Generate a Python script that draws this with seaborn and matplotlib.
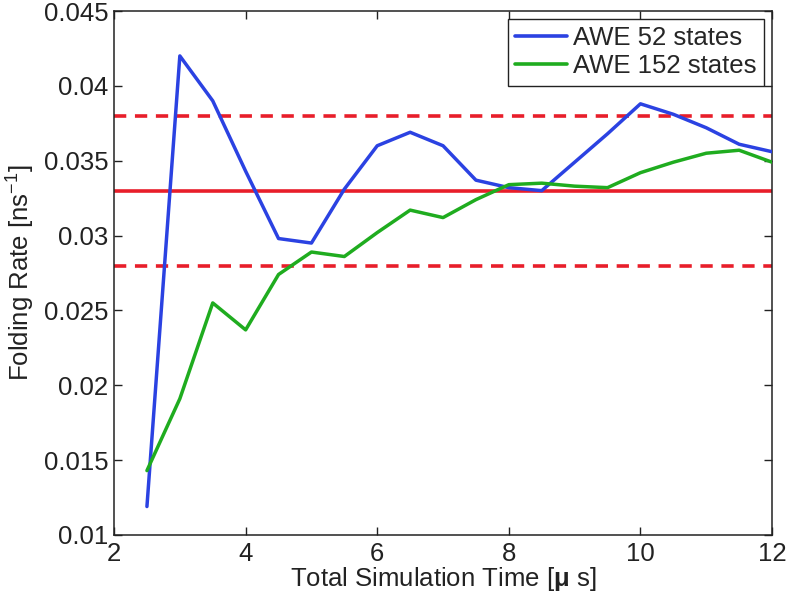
import numpy as np
import pandas as pd
import matplotlib
matplotlib.use("Agg")
import matplotlib.pyplot as plt
from matplotlib.ticker import FuncFormatter, MultipleLocator
import seaborn as sns

# ---- data ----
time_us = [2.5, 3, 3.5, 4, 4.5, 5, 5.5, 6, 6.5, 7, 7.5, 8, 8.5, 9, 9.5, 10, 10.5, 11, 11.5, 12]
awe52 = [0.0119, 0.0420, 0.0390, 0.0343, 0.0298, 0.0295, 0.0331, 0.0360, 0.0369, 0.0360,
         0.0337, 0.0332, 0.0330, 0.0349, 0.0368, 0.0388, 0.0381, 0.0372, 0.0361, 0.0356]
awe152 = [0.0143, 0.0191, 0.0255, 0.0237, 0.0274, 0.0289, 0.0286, 0.0302, 0.0317, 0.0312,
          0.0324, 0.0334, 0.0335, 0.0333, 0.0332, 0.0342, 0.0349, 0.0355, 0.0357, 0.0349]
series_names = ["AWE 52 states", "AWE 152 states"]
ref_rate = 0.033
ref_band = [0.038, 0.028]
x_ticks = [2, 4, 6, 8, 10, 12]

df = pd.DataFrame({
    "time": time_us * 2,
    "rate": awe52 + awe152,
    "series": [series_names[0]] * len(time_us) + [series_names[1]] * len(time_us),
})

sns.set_style("ticks")
plt.rcParams["font.family"] = ["Liberation Sans", "DejaVu Sans"]
plt.rcParams["mathtext.fontset"] = "custom"
plt.rcParams["mathtext.rm"] = "Liberation Sans"
plt.rcParams["mathtext.it"] = "Liberation Sans:italic"
plt.rcParams["mathtext.bf"] = "Liberation Sans:bold"

FS = 18.5
TXT = "#222222"

fig = plt.figure(figsize=(7.87, 5.98), dpi=100)
ax = fig.add_axes([0.1449, 0.1054, 0.8361, 0.8762])

red = "#e81e2a"
ax.axhline(ref_rate, color=red, lw=2.6, zorder=1)
for v in ref_band:
    ax.axhline(v, color=red, lw=2.6, ls=(0, (3.4, 2.4)), zorder=1)

palette = {series_names[0]: "#2b42e2", series_names[1]: "#1fac1f"}
sns.lineplot(data=df, x="time", y="rate", hue="series", palette=palette,
             linewidth=2.5, ax=ax, zorder=3)

ax.set_xlim(2, 12)
ax.set_ylim(0.01, 0.045)
ax.set_xticks(x_ticks)
ax.yaxis.set_major_locator(MultipleLocator(0.005))
ax.yaxis.set_major_formatter(FuncFormatter(lambda v, p: f"{v:g}"))
ax.tick_params(direction="in", length=6, width=1, top=True, right=True,
               labelsize=FS, colors=TXT)
ax.tick_params(axis="x", pad=5)
ax.tick_params(axis="y", pad=4)
for s in ax.spines.values():
    s.set_linewidth(1.1)
    s.set_color(TXT)
    s.set_visible(True)

ax.set_xlabel("Total Simulation Time [$\\mathbf{\\mu}$ s]", fontsize=FS, color=TXT, labelpad=-1)
ax.set_ylabel("Folding Rate [ns$^{-1}$]", fontsize=FS, color=TXT, labelpad=5)

leg = ax.legend(loc="upper right", fontsize=FS, frameon=True, fancybox=False,
                edgecolor=TXT, framealpha=1, borderaxespad=0.3,
                handlelength=2.0, borderpad=0.3, labelspacing=0.15, handletextpad=0.25)
leg.get_frame().set_linewidth(1.0)
for line in leg.get_lines():
    line.set_linewidth(2.6)

fig.savefig("out.png", dpi=100)
